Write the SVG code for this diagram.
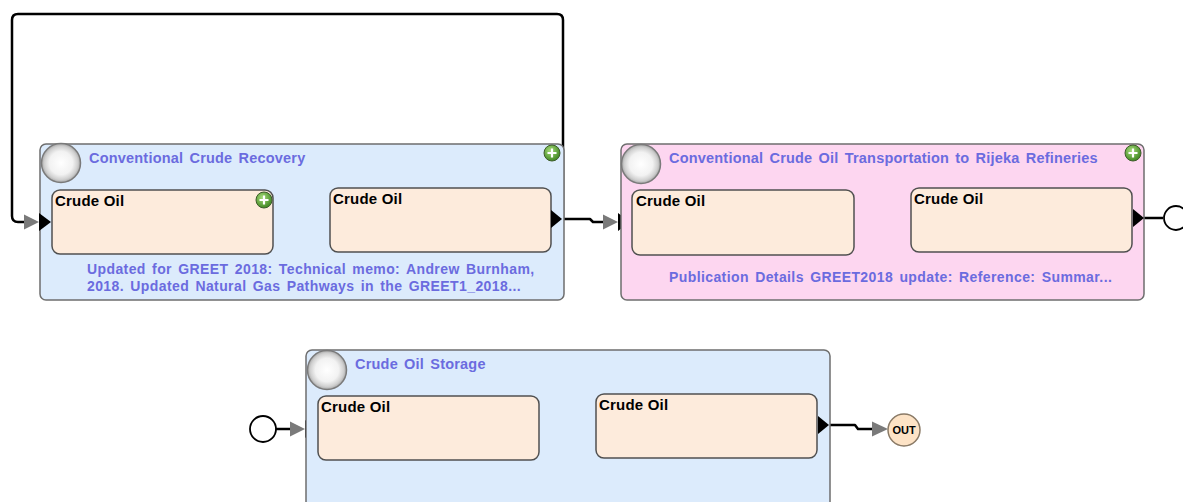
<svg xmlns="http://www.w3.org/2000/svg" width="1183" height="502" viewBox="0 0 1183 502">
<defs>
<radialGradient id="gc" cx="0.5" cy="0.5" r="0.5">
<stop offset="0" stop-color="#ffffff"/>
<stop offset="0.6" stop-color="#f2f2f2"/>
<stop offset="0.85" stop-color="#d0d0d0"/>
<stop offset="1" stop-color="#a8a8a8"/>
</radialGradient>
<radialGradient id="gp" cx="0.4" cy="0.35" r="0.6">
<stop offset="0" stop-color="#a6dc7a"/>
<stop offset="1" stop-color="#4a8f2a"/>
</radialGradient>
<g id="plus">
<circle r="8" fill="url(#gp)" stroke="#3d5c2a" stroke-width="1"/>
<path d="M-4.5 0H4.5M0 -4.5V4.5" stroke="#fff" stroke-width="2.2"/>
</g>
<g id="inTri">
<polygon points="-27,-7.5 -12,0 -27,7.5" fill="#7a7a7a"/>
<polygon points="-12,-9 0,0 -12,9" fill="#000"/>
</g>
<g id="outTri">
<polygon points="0,-9 11,0 0,9" fill="#000"/>
</g>
</defs>
<style>
.proc{stroke:#6e6e6e;stroke-width:1.5}
.blue{fill:#dcebfc}
.pink{fill:#fdd6f0}
.box{fill:#fdebdc;stroke:#505050;stroke-width:1.5}
.badge{fill:url(#gc);stroke:#7a7a7a;stroke-width:1.5}
.title{font-family:"Liberation Sans",Arial,sans-serif;font-size:14.5px;font-weight:bold;fill:#6b6bdf;letter-spacing:0.2px;word-spacing:2px}
.desc{font-family:"Liberation Sans",Arial,sans-serif;font-size:14px;font-weight:bold;fill:#6b6bdf;letter-spacing:0.4px;word-spacing:2px}
.lbl{font-family:"Liberation Sans",Arial,sans-serif;font-size:15px;font-weight:bold;fill:#000;letter-spacing:0.2px}
.wire{fill:none;stroke:#000;stroke-width:2.5;stroke-linejoin:round}
.port{fill:#fff;stroke:#000;stroke-width:1.8}
</style>

<g id="connectors">
<path class="wire" d="M561 219 H563 V20 Q563 14 557 14 H18 Q12 14 12 20 V216 Q12 222 18 222 H26"/>
<path class="wire" d="M561 219 H590 L593 222 H604"/>
<use href="#inTri" x="630" y="222"/>
<path class="wire" d="M1143 218 H1163"/>
<path class="wire" d="M276 429 H291"/>
<use href="#inTri" x="317" y="429"/>
<path class="wire" d="M828 425 H855 L858 429 H873"/>
<polygon points="872,421.5 888,429 872,436.5" fill="#7a7a7a"/>
</g>

<g id="node-recovery">
<rect class="proc blue" x="40" y="144" width="524" height="156" rx="6"/>
<circle class="badge" cx="61" cy="163" r="19.5"/>
<text class="title" x="89" y="163">Conventional Crude Recovery</text>
<use href="#plus" x="552" y="153"/>
<rect class="box" x="52" y="190" width="221" height="64" rx="8"/>
<text class="lbl" x="55" y="206">Crude Oil</text>
<use href="#plus" x="264" y="200"/>
<rect class="box" x="330" y="188" width="221" height="64" rx="8"/>
<text class="lbl" x="333" y="204">Crude Oil</text>
<use href="#inTri" x="51" y="222"/>
<use href="#outTri" x="551" y="219"/>
<text class="desc" x="87" y="274">Updated for GREET 2018: Technical memo: Andrew Burnham,</text>
<text class="desc" x="87" y="291">2018. Updated Natural Gas Pathways in the GREET1_2018...</text>
</g>

<g id="node-transport">
<rect class="proc pink" x="621" y="144" width="523" height="156" rx="6"/>
<circle class="badge" cx="641" cy="164" r="19.5"/>
<text class="title" x="669" y="163">Conventional Crude Oil Transportation to Rijeka Refineries</text>
<use href="#plus" x="1133" y="153"/>
<rect class="box" x="632" y="190" width="222" height="65" rx="8"/>
<text class="lbl" x="636" y="206">Crude Oil</text>
<rect class="box" x="911" y="188" width="221" height="64" rx="8"/>
<text class="lbl" x="914" y="204">Crude Oil</text>
<use href="#outTri" x="1133" y="218"/>
<text class="desc" x="669" y="282">Publication Details GREET2018 update: Reference: Summar...</text>
</g>

<g id="port-transport-out">
<circle class="port" cx="1176" cy="218" r="12"/>
</g>

<g id="node-storage">
<rect class="proc blue" x="306" y="350" width="524" height="170" rx="6"/>
<circle class="badge" cx="327" cy="370" r="19.5"/>
<text class="title" x="355" y="369">Crude Oil Storage</text>
<rect class="box" x="318" y="396" width="221" height="64" rx="8"/>
<text class="lbl" x="321" y="412">Crude Oil</text>
<rect class="box" x="596" y="394" width="221" height="64" rx="8"/>
<text class="lbl" x="599" y="410">Crude Oil</text>
<use href="#outTri" x="818" y="425"/>
</g>

<g id="port-storage-in">
<circle class="port" cx="263" cy="429" r="13"/>
</g>

<g id="port-out">
<circle cx="904" cy="430" r="16" fill="#fde3c6" stroke="#8a7a66" stroke-width="1.5"/>
<text x="904" y="434" text-anchor="middle" font-family="Liberation Sans, Arial, sans-serif" font-size="11" font-weight="bold" fill="#000">OUT</text>
</g>
</svg>
